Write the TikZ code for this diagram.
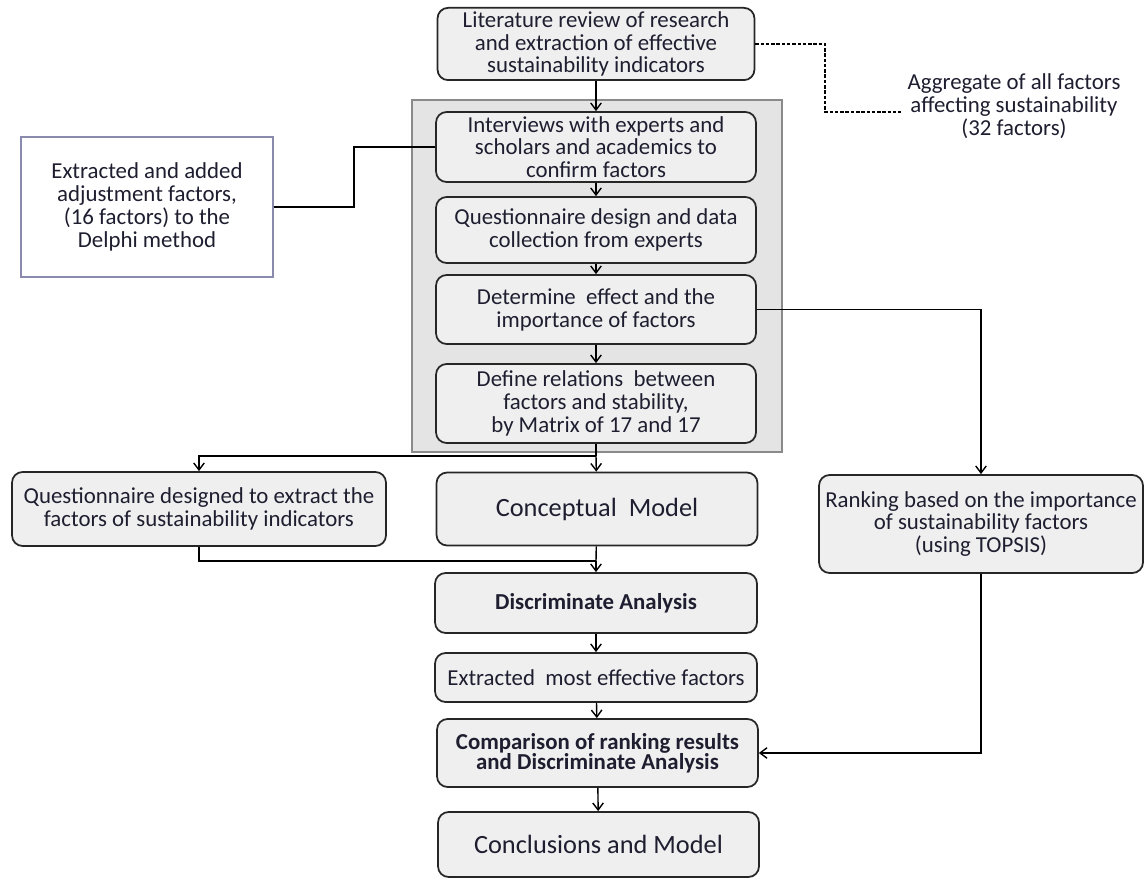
\documentclass[tikz,border=0pt]{standalone}
\usepackage{fontspec}
\setmainfont{Carlito}
\usetikzlibrary{arrows.meta,positioning}
\definecolor{boxgray}{HTML}{EFEFEF}
\definecolor{framegray}{HTML}{E4E4E4}
\definecolor{frameline}{HTML}{8A8A8A}
\definecolor{delphiline}{HTML}{8A8AAE}
\definecolor{inktext}{HTML}{1E1E30}
\tikzset{>={Straight Barb[length=4pt,width=6pt]}}
\tikzset{font=\fontsize{13}{13}\selectfont}
\tikzset{
  stage/.style={draw=black!85, line width=1pt, fill=boxgray, rounded corners=6pt,
    align=center, text=inktext, inner sep=2pt, minimum width=6.4cm},
  link/.style={draw=black, line width=0.8pt},
  big/.style={font=\fontsize{15}{17}\selectfont},
  strong/.style={font=\fontsize{13}{11.5}\selectfont\bfseries}
}

\begin{document}
\begin{tikzpicture}[x=0.02cm,y=-0.02cm]
  \useasboundingbox (0,0) rectangle (1145,878);
  % Delphi frame
  \draw[frameline, fill=framegray, line width=1.3pt] (412,100) rectangle (782,452);

  \node[stage, minimum width=6.34cm, minimum height=1.44cm] (lit) at (596,44)
    {Literature review of research\\and extraction of effective\\sustainability indicators};
  \node[stage, minimum height=1.4cm] (interv) at (596,147)
    {Interviews with experts and\\scholars and academics to\\confirm factors};
  \node[stage, minimum height=1.32cm] (quest) at (596,230)
    {Questionnaire design and data\\collection from experts};
  \node[stage, minimum height=1.38cm] (determ) at (596,309.5)
    {Determine\ \ effect and the\\importance of factors};
  \node[stage, minimum height=1.58cm] (define) at (596,403.5)
    {Define relations\ \ between\\factors and stability,\\by Matrix of 17 and 17};

  \node[draw=delphiline, line width=1pt, fill=white, align=center, text=inktext,
    minimum width=5.04cm, minimum height=2.8cm] (delphi) at (147,207)
    {Extracted and added\\adjustment factors,\\(16 factors) to the\\Delphi method};
  \node[align=center, text=inktext] (aggr) at (1014,106)
    {Aggregate of all factors\\affecting sustainability\\(32 factors)};

  \node[stage, minimum width=7.48cm, minimum height=1.48cm] (questx) at (199,509)
    {Questionnaire designed to extract the\\factors of sustainability indicators};
  \node[stage, big, minimum width=6.42cm, minimum height=1.46cm] (concept) at (597,509)
    {Conceptual\ \ Model};
  \node[stage, minimum width=6.48cm, minimum height=1.96cm] (rank) at (981,524)
    {Ranking based on the importance\\of sustainability factors\\(using TOPSIS)};

  \node[stage, strong, minimum width=6.44cm, minimum height=1.2cm] (discr) at (596,603)
    {Discriminate Analysis};
  \node[stage, minimum width=6.44cm, minimum height=0.98cm] (extr) at (596,677.5)
    {Extracted\ \ most effective factors};
  \node[stage, strong, minimum width=6.42cm, minimum height=1.36cm] (compar) at (597.5,753)
    {Comparison of ranking results\\and Discriminate Analysis};
  \node[stage, big, minimum width=6.42cm, minimum height=1.3cm] (concl) at (598.5,844.5)
    {Conclusions and Model};

  \coordinate (bend) at (354,207);
  \coordinate (kink) at (825,112);
  \coordinate (split) at (596,456);
  \coordinate (join) at (596,561);

  % main chain
  \draw[link,->] (lit) -- (interv);
  \draw[link,->] (interv) -- (quest);
  \draw[link,->] (quest) -- (determ);
  \draw[link,->] (determ) -- (define);
  \draw[link] (define) -- (split);
  \draw[link,->] (split) -| (questx.north);
  \draw[link,->] (split) -- (concept);
  \draw[link] (questx.south) |- (join);
  \draw[link] (concept) -- (join);
  \draw[link,->] (join) -- (discr);
  \draw[link,->] (discr) -- (extr);
  \draw[link,->] (extr) -- (compar);
  \draw[link,->] (compar) -- (concl);

  % side branches
  \draw[link] (delphi.east |- bend) -- (bend) |- (interv.west);
  \draw[link,->] (determ.east) -| (rank.north);
  \draw[link,->] (rank.south) |- (compar.east);
  \draw[link, dashed, dash pattern=on 2pt off 1pt, line width=0.6pt]
    (lit.east) -| (kink) -- (aggr.west |- kink);
\end{tikzpicture}
\end{document}
